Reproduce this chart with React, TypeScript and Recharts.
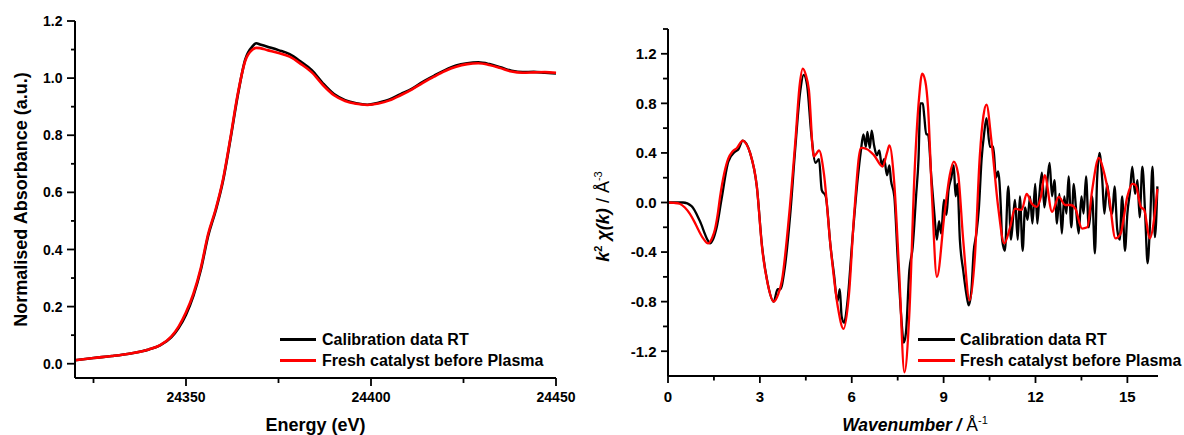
import React from 'react';
import { LineChart, Line, XAxis, YAxis, Legend } from 'recharts';

const FONT = '"Liberation Sans", Arial, sans-serif';

// ---- XANES (left panel) ----
const energy = [
  24320, 24325, 24330, 24335, 24340, 24343, 24346, 24348, 24350, 24352, 24354, 24356, 24358, 24360,
  24362, 24364, 24366, 24368, 24369, 24370, 24372, 24375, 24378, 24381, 24384, 24387, 24390, 24393,
  24396, 24399, 24402, 24405, 24408, 24411, 24414, 24417, 24420, 24423, 24426, 24429, 24432, 24435,
  24438, 24441, 24444, 24447, 24450,
];
const calibrationAbs = [
  0.012, 0.02, 0.027, 0.036, 0.05, 0.064, 0.092, 0.125, 0.172, 0.238, 0.328, 0.448, 0.535, 0.64,
  0.785, 0.94, 1.065, 1.112, 1.122, 1.118, 1.11, 1.098, 1.084, 1.058, 1.028, 0.982, 0.944, 0.923,
  0.912, 0.907, 0.914, 0.925, 0.944, 0.962, 0.987, 1.008, 1.028, 1.044, 1.052, 1.055, 1.049, 1.038,
  1.026, 1.021, 1.022, 1.019, 1.016,
];
const freshAbs = [
  0.012, 0.02, 0.027, 0.036, 0.05, 0.065, 0.095, 0.13, 0.18, 0.245, 0.335, 0.455, 0.54, 0.645,
  0.79, 0.945, 1.06, 1.1, 1.106, 1.105, 1.098, 1.088, 1.075, 1.05, 1.02, 0.976, 0.94, 0.92,
  0.91, 0.906, 0.911, 0.922, 0.94, 0.96, 0.983, 1.005, 1.025, 1.04, 1.049, 1.052, 1.046, 1.035,
  1.023, 1.019, 1.02, 1.021, 1.019,
];
const leftXTicks = [24325, 24350, 24375, 24400, 24425, 24450];
const leftXMajor = [24350, 24400, 24450];
const leftYTicks = [0, 0.1, 0.2, 0.3, 0.4, 0.5, 0.6, 0.7, 0.8, 0.9, 1.0, 1.1, 1.2];
const leftYMajor = [0, 0.2, 0.4, 0.6, 0.8, 1.0, 1.2];

// ---- EXAFS (right panel) ----
const calibK = [
  0, 0.49, 0.77, 1.04, 1.31, 1.37, 1.59, 1.75, 1.97, 2.19, 2.3, 2.44, 2.68, 2.9, 3.07, 3.23, 3.45,
  3.58, 3.67, 3.8, 3.99, 4.16, 4.32, 4.43, 4.54, 4.68, 4.82, 4.93, 5.02, 5.15, 5.31, 5.42, 5.53,
  5.61, 5.67, 5.75, 5.86, 6.02, 6.19, 6.3, 6.38, 6.46, 6.51, 6.59, 6.65, 6.73, 6.82, 6.9, 6.98,
  7.06, 7.15, 7.23, 7.28, 7.39, 7.5, 7.61, 7.7, 7.77, 7.88, 7.99, 8.1, 8.18, 8.24, 8.32, 8.37,
  8.43, 8.49, 8.6, 8.7, 8.78, 8.85, 8.92, 9.01, 9.09, 9.16, 9.25, 9.33, 9.39, 9.45, 9.53, 9.64,
  9.75, 9.82, 9.91, 9.98, 10.07, 10.15, 10.24, 10.32, 10.4, 10.51, 10.62, 10.71, 10.78, 10.87,
  10.91, 11.0, 11.11, 11.2, 11.28, 11.33, 11.42, 11.49, 11.58, 11.66, 11.74, 11.82, 11.9, 11.99,
  12.06, 12.13, 12.21, 12.29, 12.37, 12.46, 12.54, 12.62, 12.7, 12.78, 12.86, 12.94, 13.01, 13.08,
  13.17, 13.25, 13.32, 13.41, 13.5, 13.57, 13.65, 13.74, 13.85, 13.94, 14.01, 14.09, 14.18, 14.25,
  14.34, 14.43, 14.51, 14.58, 14.67, 14.75, 14.83, 14.92, 15.0, 15.09, 15.16, 15.25, 15.33, 15.4,
  15.49, 15.58, 15.66, 15.74, 15.82, 15.9, 15.98,
];
const calibChi = [
  0, 0, -0.03, -0.15, -0.31, -0.33, -0.2, 0.03, 0.33, 0.41, 0.43, 0.5, 0.4, 0.13, -0.35, -0.62, -0.8,
  -0.7, -0.7, -0.55, -0.1, 0.45, 0.9, 1.03, 0.95, 0.55, 0.32, 0.35, 0.1, 0.05, -0.36, -0.58, -0.8,
  -0.7, -0.92, -0.97, -0.8, -0.3, 0.18, 0.42, 0.55, 0.45, 0.57, 0.44, 0.58, 0.46, 0.38, 0.42, 0.3,
  0.35, 0.22, 0.3, 0.18, 0.05, -0.45, -0.9, -1.13, -1.05, -0.55, -0.36, 0.05, 0.35, 0.8, 0.8, 0.69,
  0.55, 0.55, 0.2, -0.1, -0.3, -0.15, -0.25, 0.02, -0.1, 0.1, 0.2, 0.3, 0.05, 0.15, -0.3, -0.55,
  -0.75, -0.83, -0.7, -0.4, -0.25, -0.05, 0.35, 0.55, 0.68, 0.45, 0.45, 0.2, 0.25, -0.05,
  -0.3, -0.39, 0.13, -0.3, -0.09, 0.02, -0.3, 0.05, -0.39, -0.04, -0.14, 0.05, -0.17, 0.15,
  -0.17, 0.07, 0.24, -0.04, 0.13, 0.32, 0.05, 0.18, -0.17, 0.07, -0.25, 0.05, -0.09, 0.21,
  -0.2, 0.15, -0.04, -0.25, 0.05, -0.09, 0.21, -0.2, 0.05, -0.41, 0.18, 0.4, 0.18, -0.09,
  0.15, -0.04, -0.09, 0.13, -0.22, -0.3, 0.05, -0.39, -0.09, 0.1, 0.29, 0.07, 0.18, -0.12,
  0.29, -0.09, -0.49, -0.17, 0.29, -0.28, 0.13,
];
const freshK = [
  0, 0.2, 0.38, 0.55, 0.71, 0.85, 0.99, 1.15, 1.31, 1.45, 1.53, 1.62, 1.7, 1.97, 2.1, 2.25, 2.44,
  2.56, 2.68, 2.9, 3.07, 3.25, 3.45, 3.6, 3.72, 3.94, 4.16, 4.3, 4.4, 4.5, 4.6, 4.76, 4.86, 4.93,
  5.09, 5.31, 5.55, 5.73, 5.91, 6.08, 6.3, 6.5, 6.73, 7.01, 7.15, 7.23, 7.39, 7.55, 7.72, 7.88,
  8.05, 8.2, 8.3, 8.4, 8.49, 8.62, 8.78, 9.03, 9.2, 9.33, 9.47, 9.64, 9.85, 10.02, 10.18, 10.3,
  10.4, 10.56, 10.78, 10.98, 11.17, 11.33, 11.55, 11.71, 11.88, 12.04, 12.18, 12.3, 12.54, 12.76,
  12.97, 13.15, 13.3, 13.52, 13.69, 13.85, 14.07, 14.23, 14.4, 14.61, 14.78, 15.0, 15.16, 15.27,
  15.44, 15.55, 15.73, 15.98,
];
const freshChi = [
  0, -0.003, -0.01, -0.04, -0.09, -0.15, -0.22, -0.29, -0.33, -0.28, -0.22, -0.1, 0.045, 0.356,
  0.41, 0.44, 0.5, 0.47, 0.4, 0.13, -0.36, -0.65, -0.8, -0.74, -0.63, -0.14, 0.5, 0.95, 1.08, 1.03,
  0.91, 0.37, 0.4, 0.42, 0.235, -0.36, -0.85, -1.02, -0.74, -0.09, 0.44, 0.43, 0.38, 0.29, 0.4,
  0.46, 0.15, -0.57, -1.37, -0.9, 0.235, 0.85, 1.04, 0.98, 0.77, 0.05, -0.6, -0.09, 0.22, 0.33,
  0.235, -0.305, -0.79, -0.44, 0.37, 0.7, 0.79, 0.5, -0.035, -0.33, -0.2, -0.05, -0.06, 0.07,
  -0.01, -0.035, 0.05, 0.22, -0.075, 0.045, -0.02, -0.02, -0.05, -0.21, -0.2, 0.1, 0.36, 0.25,
  0.05, -0.29, -0.25, 0.05, 0.15, 0.14, -0.035, -0.06, -0.29, 0.11,
];
const rightXTicks = [0, 1.5, 3, 4.5, 6, 7.5, 9, 10.5, 12, 13.5, 15];
const rightXMajor = [0, 3, 6, 9, 12, 15];
const rightYTicks = [-1.2, -1.0, -0.8, -0.6, -0.4, -0.2, 0, 0.2, 0.4, 0.6, 0.8, 1.0, 1.2, 1.4];
const rightYMajor = [-1.2, -0.8, -0.4, 0, 0.4, 0.8, 1.2];

const xanesCalib = energy.map((x, i) => ({ x, y: calibrationAbs[i] }));
const xanesFresh = energy.map((x, i) => ({ x, y: freshAbs[i] }));
const exafsCalib = calibK.map((x, i) => ({ x, y: calibChi[i] }));
const exafsFresh = freshK.map((x, i) => ({ x, y: freshChi[i] }));

const makeYTick = (majors: number[], majorLen: number, minorLen: number, gap: number, size: number) =>
  (props: any) => {
    const { x, y, payload } = props;
    const major = majors.includes(payload.value);
    return (
      <g>
        <line x1={x} x2={x - (major ? majorLen : minorLen)} y1={y} y2={y} stroke="#000" strokeWidth={1.8} />
        {major ? (
          <text x={x - gap} y={y} dy="0.36em" textAnchor="end" fontFamily={FONT} fontWeight="bold" fontSize={size} fill="#000">
            {payload.value.toFixed(1)}
          </text>
        ) : null}
      </g>
    );
  };

const makeXTick = (majors: number[], majorLen: number, minorLen: number, base: number, size: number) =>
  (props: any) => {
    const { x, y, payload } = props;
    const major = majors.includes(payload.value);
    return (
      <g>
        <line x1={x} x2={x} y1={y} y2={y + (major ? majorLen : minorLen)} stroke="#000" strokeWidth={1.8} />
        {major ? (
          <text x={x} y={y + base} textAnchor="middle" fontFamily={FONT} fontWeight="bold" fontSize={size} fill="#000">
            {payload.value}
          </text>
        ) : null}
      </g>
    );
  };

const LeftYTick = makeYTick(leftYMajor, 8, 4, 12.5, 14);
const LeftXTick = makeXTick(leftXMajor, 8, 5, 24, 14);
const RightYTick = makeYTick(rightYMajor, 7, 5, 11.5, 15);
const RightXTick = makeXTick(rightXMajor, 7, 4.5, 26, 15);

const LeftXTitle = ({ viewBox }: any) => (
  <text x={viewBox.x + viewBox.width / 2} y={viewBox.y + 53} textAnchor="middle" fontFamily={FONT} fontWeight="bold" fontSize={18} fill="#000">
    Energy (eV)
  </text>
);

const LeftYTitle = ({ viewBox }: any) => {
  const cx = 26.5;
  const cy = viewBox.y + viewBox.height / 2;
  return (
    <text x={cx} y={cy} transform={`rotate(-90, ${cx}, ${cy})`} textAnchor="middle" fontFamily={FONT} fontWeight="bold" fontSize={18} fill="#000">
      Normalised Absorbance (a.u.)
    </text>
  );
};

const RightXTitle = ({ viewBox }: any) => (
  <text x={viewBox.x + viewBox.width / 2 + 2} y={viewBox.y + 55} textAnchor="middle" fontFamily={FONT} fontSize={17.5} fill="#000">
    <tspan fontWeight="bold" fontStyle="italic">Wavenumber /</tspan>
    <tspan>{'\u00A0'}Å</tspan>
    <tspan fontSize={11} dy={-7}>-1</tspan>
  </text>
);

const RightYTitle = ({ viewBox }: any) => {
  const cx = 28.5;
  const cy = viewBox.y + viewBox.height / 2 + 14;
  return (
    <text x={cx} y={cy} transform={`rotate(-90, ${cx}, ${cy})`} textAnchor="middle" fontFamily={FONT} fontSize={18} fill="#000">
      <tspan fontWeight="bold" fontStyle="italic">k</tspan>
      <tspan fontWeight="bold" fontSize={11} dy={-7}>2</tspan>
      <tspan fontWeight="bold" fontStyle="italic" dy={7}>{'\u00A0'}χ(k)</tspan>
      <tspan>{'\u00A0'}/ Å</tspan>
      <tspan fontSize={11} dy={-7}>-3</tspan>
    </text>
  );
};

const renderLegend = (lineW: number, gap: number, size: number) => (props: any) => (
  <div>
    {(props.payload || []).map((entry: any) => (
      <div key={entry.value} style={{ display: 'flex', alignItems: 'center', height: 21 }}>
        <span style={{ display: 'inline-block', width: lineW, height: 0, borderTop: `3px solid ${entry.color}`, marginRight: gap }} />
        <span style={{ fontFamily: FONT, fontWeight: 'bold', fontSize: size, lineHeight: '21px', color: '#000', whiteSpace: 'nowrap' }}>
          {entry.value}
        </span>
      </div>
    ))}
  </div>
);

export default function App() {
  return (
    <div style={{ position: 'absolute', left: 0, top: 0, width: 1184, height: 435, background: '#fff', overflow: 'hidden' }}>
      <div style={{ position: 'absolute', left: 0, top: 0 }}>
        <LineChart width={580} height={435} margin={{ top: 21, right: 24, bottom: 0, left: 0 }}>
          <XAxis
            dataKey="x"
            type="number"
            domain={[24320, 24450]}
            ticks={leftXTicks}
            interval={0}
            height={57}
            tickSize={0}
            tickMargin={0}
            tickLine={false}
            tick={LeftXTick}
            axisLine={{ stroke: '#000', strokeWidth: 2 }}
            label={<LeftXTitle />}
          />
          <YAxis
            type="number"
            domain={[-0.05, 1.2]}
            ticks={leftYTicks}
            interval={0}
            width={75}
            tickSize={0}
            tickMargin={0}
            tickLine={false}
            tick={LeftYTick}
            axisLine={{ stroke: '#000', strokeWidth: 2 }}
            label={<LeftYTitle />}
          />
          <Legend
            layout="vertical"
            align="center"
            verticalAlign="middle"
            content={renderLegend(36, 6, 16)}
            wrapperStyle={{ left: 280, top: 328.5, width: 'auto' }}
          />
          <Line data={xanesCalib} dataKey="y" name="Calibration data RT" type="monotone" stroke="#000" strokeWidth={2.6} dot={false} isAnimationActive={false} />
          <Line data={xanesFresh} dataKey="y" name="Fresh catalyst before Plasma" type="monotone" stroke="#ff0000" strokeWidth={2.6} dot={false} isAnimationActive={false} />
        </LineChart>
      </div>
      <div style={{ position: 'absolute', left: 580, top: 0 }}>
        <LineChart width={604} height={435} margin={{ top: 29, right: 26, bottom: 0, left: 0 }}>
          <XAxis
            dataKey="x"
            type="number"
            domain={[0, 16]}
            ticks={rightXTicks}
            interval={0}
            height={59}
            tickSize={0}
            tickMargin={0}
            tickLine={false}
            tick={RightXTick}
            axisLine={{ stroke: '#000', strokeWidth: 2 }}
            label={<RightXTitle />}
          />
          <YAxis
            type="number"
            domain={[-1.4, 1.4]}
            ticks={rightYTicks}
            interval={0}
            width={88}
            tickSize={0}
            tickMargin={0}
            tickLine={false}
            tick={RightYTick}
            axisLine={{ stroke: '#000', strokeWidth: 2 }}
            label={<RightYTitle />}
          />
          <Legend
            layout="vertical"
            align="center"
            verticalAlign="middle"
            content={renderLegend(37, 5, 16)}
            wrapperStyle={{ left: 338, top: 328.8, width: 'auto' }}
          />
          <Line data={exafsCalib} dataKey="y" name="Calibration data RT" type="monotone" stroke="#000" strokeWidth={2.3} dot={false} isAnimationActive={false} />
          <Line data={exafsFresh} dataKey="y" name="Fresh catalyst before Plasma" type="monotone" stroke="#ff0000" strokeWidth={2.3} dot={false} isAnimationActive={false} />
        </LineChart>
      </div>
    </div>
  );
}
